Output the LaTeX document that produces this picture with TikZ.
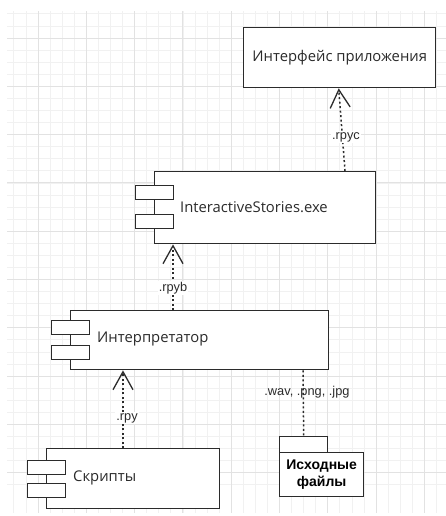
\documentclass[tikz,border=0pt]{standalone}
\usepackage{fontspec}
\setmainfont{Open Sans}
\newfontfamily\labelfont{Liberation Sans}
\usetikzlibrary{arrows.meta,calc}

\definecolor{ink}{HTML}{2B2B2B}
\definecolor{gridminor}{HTML}{F1F1F1}
\definecolor{gridmajor}{HTML}{E2E2E2}

\tikzset{
  box/.style={draw=ink, line width=1.4pt, fill=white, rectangle, inner sep=0pt, anchor=north west},
  tab/.style={draw=ink, line width=1.4pt, fill=white, rectangle, inner sep=0pt, anchor=north west,
              minimum width=38pt, minimum height=14pt},
  title/.style={font=\fontsize{14.8}{17}\selectfont, text=ink, inner sep=0pt},
  dep/.style={draw=ink, line width=1.5pt, dash pattern=on 2pt off 2.5pt,
              -{Straight Barb[length=18pt, width=20pt, line width=1.3pt]}},
  link/.style={draw=ink, line width=1.5pt, dash pattern=on 2pt off 2.5pt},
  lbl/.style={font=\labelfont\fontsize{12.8}{15}\selectfont, text=ink, fill=white, inner sep=1pt}
}

\begin{document}
\begin{tikzpicture}[x=1pt, y=-1pt]
  \useasboundingbox (0,0) rectangle (446,516);
  \fill[white] (0,0) rectangle (446,516);

  % background grid
  \begin{scope}
    \clip (7,12) rectangle (446,512);
    \foreach \k in {-3,...,37} {
      \draw[gridminor, line width=0.8pt] ({38+12.075*\k},0) -- ({38+12.075*\k},516);
      \draw[gridminor, line width=0.8pt] (0,{38+12.075*\k}) -- (446,{38+12.075*\k});
    }
    \foreach \k in {-1,...,9} {
      \draw[gridmajor, line width=0.9pt] ({38+48.3*\k},0) -- ({38+48.3*\k},516);
      \draw[gridmajor, line width=0.9pt] (0,{38+48.3*\k}) -- (446,{38+48.3*\k});
    }
  \end{scope}

  % application interface
  \node[box, minimum width=192pt, minimum height=60pt] (iface) at (243,27) {};
  \node[title] at (iface.center) {Интерфейс приложения};

  % executable component
  \node[box, minimum width=221pt, minimum height=72pt] (exe) at (154,171) {};
  \node[tab] (exet1) at (135,185) {};
  \node[tab] (exet2) at (135,214) {};
  \node[title, anchor=west] at (180,207) {InteractiveStories.exe};

  % interpreter component
  \node[box, minimum width=258pt, minimum height=59pt] (interp) at (70,310) {};
  \node[tab] (intt1) at (51,320) {};
  \node[tab] (intt2) at (51,345) {};
  \node[title, anchor=west] at (97,339) {Интерпретатор};

  % scripts component
  \node[box, minimum width=173pt, minimum height=60pt] (scripts) at (46,448) {};
  \node[tab] (scrt1) at (27,460) {};
  \node[tab] (scrt2) at (27,483) {};
  \node[title, anchor=west] at (73,478) {Скрипты};

  % source files package
  \node[box, minimum width=48pt, minimum height=16pt] (pkgtab) at (279,436) {};
  \node[box, minimum width=84pt, minimum height=44pt, align=center,
        font=\labelfont\bfseries\fontsize{14}{17}\selectfont, text=black]
        (pkg) at (279,452) {Исходные\\файлы};

  % dependencies
  \draw[dep] ([xshift=191pt]exe.north west) -- ([xshift=-1pt]iface.south);
  \draw[dep] ([xshift=103pt]interp.north west) -- ([xshift=19pt]exe.south west);
  \draw[dep] ([xshift=77pt]scripts.north west) -- ([xshift=53pt]interp.south west);
  \draw[link] ([xshift=233pt]interp.south west) -- (pkgtab.north);

  % connector labels
  \node[lbl] (l1) at (346,137) {.rpyc};
  \node[lbl] (l2) at (173,288) {.rpyb};
  \node[lbl] (l3) at (127,418) {.rpy};
  \node[lbl, fill=none] (l4) at (307,392) {.wav, .png, .jpg};
\end{tikzpicture}
\end{document}
